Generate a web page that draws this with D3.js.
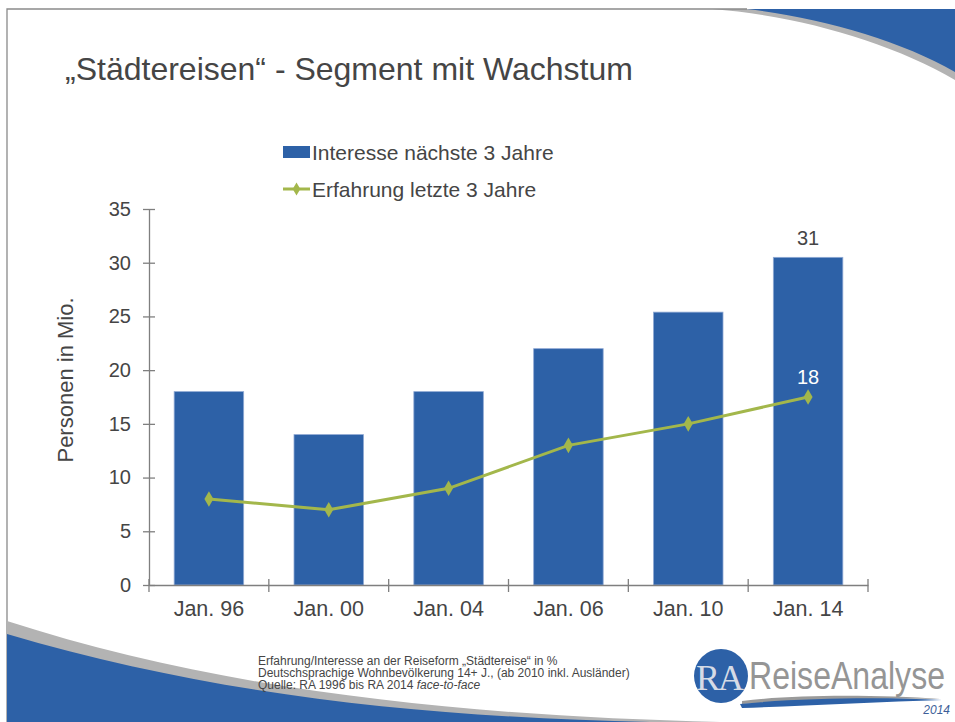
<!DOCTYPE html>
<html>
<head>
<meta charset="utf-8">
<script src="https://cdn.jsdelivr.net/npm/d3@7"></script>
<style>
  body { margin: 0; background: #fff; }
  svg text { font-family: "Liberation Sans", Arial, sans-serif; fill: #454545; }
</style>
</head>
<body>
<script>
// data
var categories = ["Jan. 96", "Jan. 00", "Jan. 04", "Jan. 06", "Jan. 10", "Jan. 14"];
var interesse = [18, 14, 18, 22, 25.4, 30.5];   // bars
var erfahrung = [8, 7, 9, 13, 15, 17.5];        // line
var yTicks = [0, 5, 10, 15, 20, 25, 30, 35];
var barLabels = [{i: 5, text: "31"}];
var lineLabels = [{i: 5, text: "18"}];
var footnote = [
  "Erfahrung/Interesse an der Reiseform \u201eStädtereise\u201c in %",
  "Deutschsprachige Wohnbevölkerung 14+ J., (ab 2010 inkl. Ausländer)",
  "Quelle: RA 1996 bis RA 2014 "
];

var W = 955, H = 722;
var blue = "#2d61a7", green = "#a3b74b", axisCol = "#7f7f7f";

var svg = d3.select("body").append("svg")
    .attr("width", W)
    .attr("height", H);

// ---- slide decoration ----
// top right swoosh
svg.append("path")
    .attr("d", "M712,9 C800,16 890,42 955,80 L955,9 Z")
    .attr("fill", "#b3b3b3");
svg.append("path")
    .attr("d", "M747,9 C820,18 900,40 955,72 L955,9 Z")
    .attr("fill", blue);
// frame
svg.append("path")
    .attr("d", "M7,722 L7,9 L747,9")
    .attr("fill", "none")
    .attr("stroke", "#8a8a8a")
    .attr("stroke-width", 1.3);
// bottom left swoosh
svg.append("path")
    .attr("d", "M7,621 C220,690 460,716 720,722 L7,722 Z")
    .attr("fill", "#b3b3b3");
svg.append("path")
    .attr("d", "M7,634 C220,697 430,717 650,722 L7,722 Z")
    .attr("fill", blue);

// title
svg.append("text")
    .attr("x", 65)
    .attr("y", 80)
    .style("font-size", "32px")
    .text("\u201eStädtereisen\u201c - Segment mit Wachstum");

// ---- chart ----
var x = d3.scaleBand()
    .domain(categories)
    .range([149, 868])
    .paddingInner(0.42)
    .paddingOuter(0.21);
var y = d3.scaleLinear().domain([0, 35]).range([585, 209]);

// bars
svg.selectAll(".bar")
    .data(interesse)
    .enter().append("rect")
    .attr("class", "bar")
    .attr("x", function(d, i) { return x(categories[i]); })
    .attr("y", function(d) { return y(d); })
    .attr("width", x.bandwidth())
    .attr("height", function(d) { return y(0) - y(d); })
    .attr("fill", blue)
    .attr("stroke", "#8fa9d4")
    .attr("stroke-width", 0.8);

// y axis
var yAxis = svg.append("g")
    .attr("transform", "translate(149,0)")
    .call(d3.axisLeft(y).tickValues(yTicks).tickSize(6).tickSizeOuter(0).tickPadding(12));
yAxis.selectAll(".tick line").attr("x1", 6).attr("stroke", axisCol).attr("stroke-width", 1.3);
yAxis.select(".domain").attr("stroke", axisCol).attr("stroke-width", 1.3);
yAxis.selectAll("text").style("font-size", "20px").attr("fill", "#454545")
    .style("font-family", "Liberation Sans, Arial, sans-serif");

// x axis (labels at band centres, ticks at band edges)
var xAxis = svg.append("g")
    .attr("transform", "translate(0," + y(0) + ")")
    .call(d3.axisBottom(x).tickSize(0).tickSizeOuter(0).tickPadding(16));
xAxis.select(".domain").attr("stroke", axisCol).attr("stroke-width", 1.3);
xAxis.selectAll("text").style("font-size", "21.5px").attr("fill", "#454545")
    .style("font-family", "Liberation Sans, Arial, sans-serif");
var edges = categories.map(function(c) { return x(c) - x.step() * x.paddingInner() / 2; });
edges.push(x.range()[1]);
xAxis.selectAll(".edge")
    .data(edges)
    .enter().append("line")
    .attr("x1", function(d) { return d; })
    .attr("x2", function(d) { return d; })
    .attr("y1", -6)
    .attr("y2", 7)
    .attr("stroke", axisCol)
    .attr("stroke-width", 1.3);

// line series
var cx = function(i) { return x(categories[i]) + x.bandwidth() / 2; };
var line = d3.line()
    .x(function(d, i) { return cx(i); })
    .y(function(d) { return y(d); });
svg.append("path")
    .attr("d", line(erfahrung))
    .attr("fill", "none")
    .attr("stroke", green)
    .attr("stroke-width", 3);
svg.selectAll(".pt")
    .data(erfahrung)
    .enter().append("path")
    .attr("class", "pt")
    .attr("transform", function(d, i) { return "translate(" + cx(i) + "," + y(d) + ")"; })
    .attr("d", d3.symbol().type(d3.symbolDiamond).size(70))
    .attr("fill", green);

// value labels
svg.selectAll(".blabel")
    .data(barLabels)
    .enter().append("text")
    .attr("x", function(d) { return cx(d.i); })
    .attr("y", function(d) { return y(interesse[d.i]) - 12; })
    .attr("text-anchor", "middle")
    .style("font-size", "20px")
    .text(function(d) { return d.text; });
svg.selectAll(".llabel")
    .data(lineLabels)
    .enter().append("text")
    .attr("x", function(d) { return cx(d.i); })
    .attr("y", function(d) { return y(erfahrung[d.i]) - 13; })
    .attr("text-anchor", "middle")
    .style("font-size", "20px")
    .style("fill", "#fff")
    .text(function(d) { return d.text; });

// axis title
svg.append("text")
    .attr("transform", "translate(73,380) rotate(-90)")
    .attr("text-anchor", "middle")
    .style("font-size", "22px")
    .text("Personen in Mio.");

// legend
var lg = svg.append("g");
lg.append("rect").attr("x", 283).attr("y", 146).attr("width", 27).attr("height", 12).attr("fill", blue);
lg.append("text").attr("x", 312).attr("y", 160).style("font-size", "21px").text("Interesse nächste 3 Jahre");
lg.append("line").attr("x1", 283).attr("x2", 310).attr("y1", 189).attr("y2", 189)
    .attr("stroke", green).attr("stroke-width", 3);
lg.append("path").attr("transform", "translate(296.5,189)")
    .attr("d", d3.symbol().type(d3.symbolDiamond).size(50)).attr("fill", green);
lg.append("text").attr("x", 312).attr("y", 197).style("font-size", "21px").text("Erfahrung letzte 3 Jahre");

// footnote
var fn = svg.append("g").style("font-size", "12px");
footnote.forEach(function(t, i) {
    var tx = fn.append("text")
        .attr("x", 258)
        .attr("y", 665 + i * 12.2)
        .text(t);
    if (i === 2) tx.append("tspan").style("font-style", "italic").text("face-to-face");
});

// logo
var logo = svg.append("g");
logo.append("path")
    .attr("d", "M742,701 C800,694 880,695 940,699 C880,698 800,700 742,704 Z")
    .attr("fill", "#9a9a9a");
logo.append("path")
    .attr("d", "M740,704 C800,698 880,697 942,700 C880,702 800,706 742,708 Z")
    .attr("fill", blue);
logo.append("circle").attr("cx", 721).attr("cy", 676).attr("r", 27).attr("fill", blue);
logo.append("text").attr("x", 720).attr("y", 690).attr("text-anchor", "middle")
    .style("font-family", "Liberation Serif, serif").style("font-size", "36px")
    .style("fill", "#d5dbe6").attr("textLength", 48).text("RA");
logo.append("text")
    .attr("transform", "translate(749,689) scale(1,1.2)")
    .style("font-size", "32px").style("fill", "#959595")
    .attr("textLength", 196).attr("lengthAdjust", "spacingAndGlyphs").text("ReiseAnalyse");
logo.append("text").attr("x", 950).attr("y", 714).attr("text-anchor", "end")
    .style("font-size", "12px").style("font-style", "italic").style("fill", "#3e5f99")
    .text("2014");
</script>
</body>
</html>
